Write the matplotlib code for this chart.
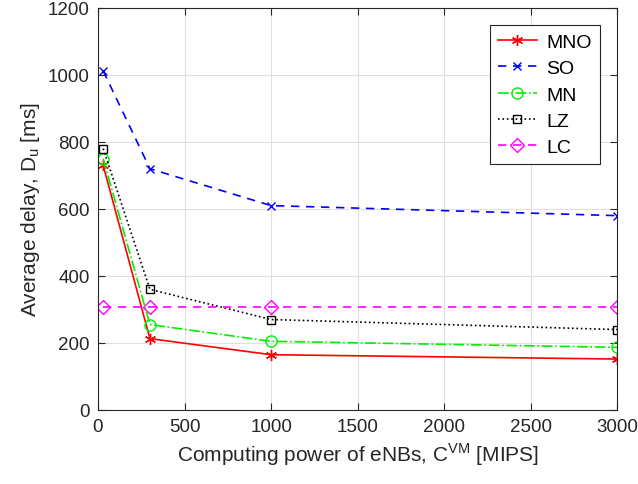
import numpy as np
import matplotlib.pyplot as plt

plt.rcParams['font.family'] = ['Liberation Sans', 'DejaVu Sans']
plt.rcParams['mathtext.fontset'] = 'custom'
plt.rcParams['mathtext.rm'] = 'Liberation Sans'

# computing power of eNBs [MIPS]
cvm = [30, 300, 1000, 3000]

mno = [730, 213, 165, 152]
so = [1012, 720, 610, 580]
mn = [750, 255, 205, 187]
lz = [780, 360, 270, 240]
lc = [307, 307, 307, 307]

fig = plt.figure(figsize=(6.38, 4.85), dpi=100)
ax = fig.add_axes([0.1536, 0.1526, 0.814, 0.829])

ax.plot(cvm, mno, color='red', ls='-', marker=(6, 2, 0), ms=8, lw=1.2, label='MNO')
ax.plot(cvm, so, color='blue', ls=(0, (5, 4)), marker='x', ms=6, lw=1.2, label='SO')
ax.plot(cvm, mn, color='#00ee00', ls='-.', marker='o', ms=8, mfc='none', lw=1.2, label='MN')
ax.plot(cvm, lz, color='black', ls=':', marker='s', ms=6, mfc='none', lw=1.2, label='LZ')
ax.plot(cvm, lc, color='magenta', ls=(0, (5, 4)), marker='D', ms=7, mfc='none', lw=1.2, label='LC')

ax.set_xlim(0, 3000)
ax.set_ylim(0, 1200)
ax.set_xticks(np.arange(0, 3001, 500))
ax.set_yticks(np.arange(0, 1201, 200))
ax.grid(True, color='#e0e0e0', lw=0.8)
ax.set_axisbelow(True)
ax.tick_params(direction='in', top=True, right=True, labelsize=13.5, colors='#262626', length=5, pad=6)
for s in ax.spines.values():
    s.set_color('#262626')
    s.set_linewidth(0.8)

ax.set_xlabel(r'Computing power of eNBs, C$^{\mathrm{VM}}$ [MIPS]', fontsize=15, color='#262626')
ax.set_ylabel(r'Average delay, D$_{\mathrm{u}}$ [ms]', fontsize=15, color='#262626')

leg = ax.legend(loc='upper right', fontsize=14, fancybox=False, framealpha=1,
                edgecolor='#262626', handlelength=2.0, handletextpad=0.5, borderpad=0.4,
                labelspacing=0.45, borderaxespad=0.9)
leg.get_frame().set_linewidth(0.8)

fig.savefig('out.png', dpi=100)
